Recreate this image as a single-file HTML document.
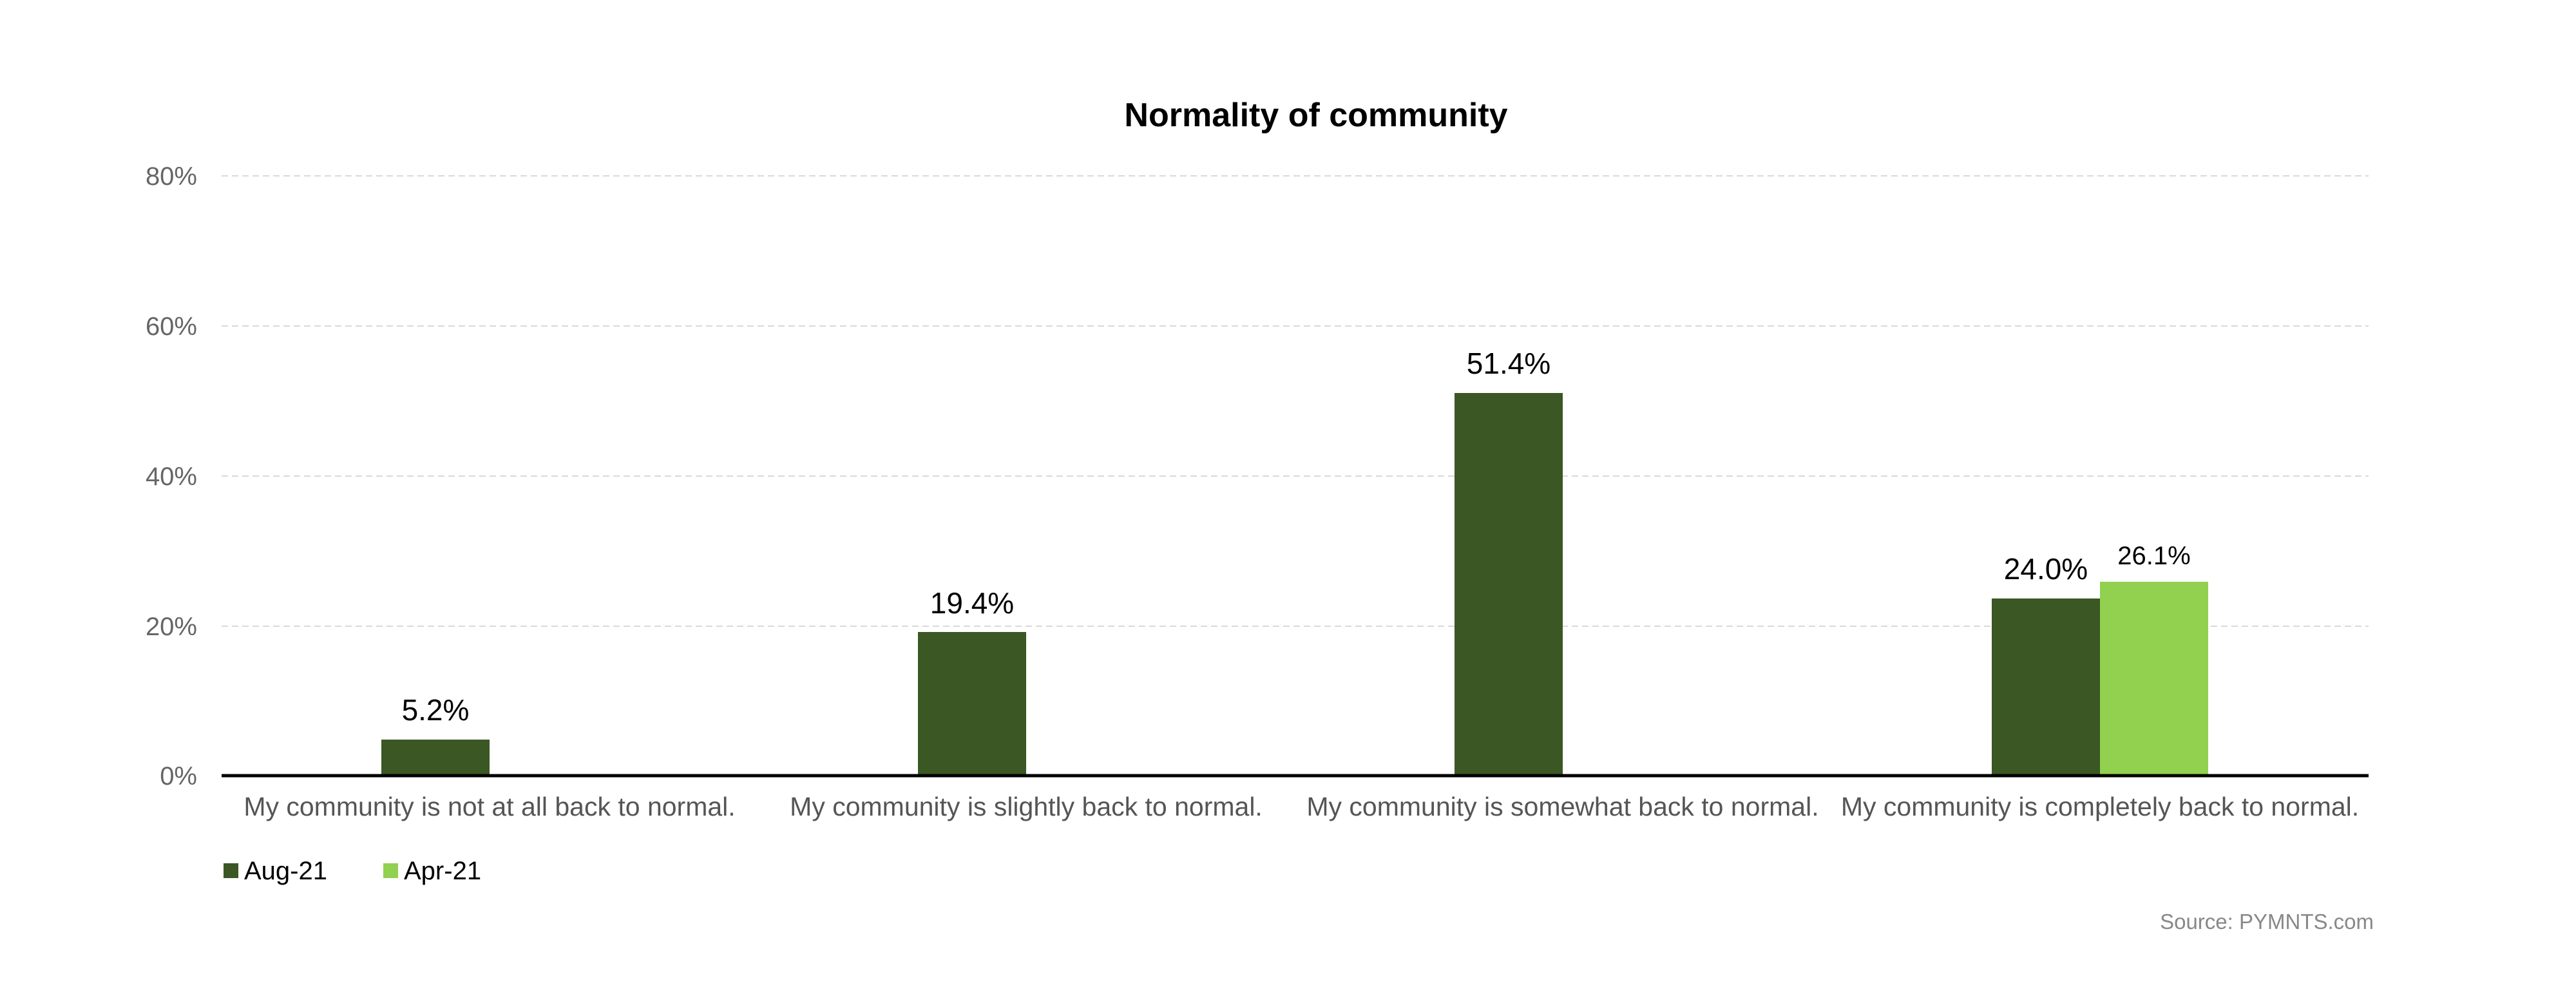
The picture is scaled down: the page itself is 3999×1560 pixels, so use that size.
<!DOCTYPE html>
<html><head><meta charset="utf-8"><style>
html,body{margin:0;padding:0;background:#fff;}
svg{display:block;font-family:"Liberation Sans",sans-serif;}
</style></head><body>
<svg width="3999" height="1560" viewBox="0 0 3999 1560" xmlns="http://www.w3.org/2000/svg">
<rect width="3999" height="1560" fill="#fff"/>
<text x="2043" y="196" text-anchor="middle" font-size="52" font-weight="bold" fill="#000">Normality of community</text>
<g stroke="#d9d9d9" stroke-width="2" stroke-dasharray="10,6">
<line x1="344" x2="3677" y1="273" y2="273"/>
<line x1="344" x2="3677" y1="506" y2="506"/>
<line x1="344" x2="3677" y1="739" y2="739"/>
<line x1="344" x2="3677" y1="972" y2="972"/>
</g>
<g font-size="40" fill="#666" text-anchor="end">
<text x="306" y="287">80%</text>
<text x="306" y="520">60%</text>
<text x="306" y="753">40%</text>
<text x="306" y="986">20%</text>
<text x="306" y="1218">0%</text>
</g>
<g fill="#3b5723">
<rect x="592" y="1148" width="168" height="56"/>
<rect x="1425" y="981" width="168" height="223"/>
<rect x="2258" y="610" width="168" height="594"/>
<rect x="3092" y="929" width="168" height="275"/>
</g>
<rect x="3260" y="903" width="168" height="301" fill="#92d050"/>
<line x1="344" x2="3677" y1="1204" y2="1204" stroke="#000" stroke-width="5"/>
<g font-size="46" fill="#000" text-anchor="middle">
<text x="676" y="1118">5.2%</text>
<text x="1509" y="952">19.4%</text>
<text x="2342" y="580">51.4%</text>
<text x="3176" y="899">24.0%</text>
<text x="3344" y="876" font-size="40">26.1%</text>
</g>
<g font-size="41" fill="#555" text-anchor="middle">
<text x="760" y="1266">My community is not at all back to normal.</text>
<text x="1593" y="1266">My community is slightly back to normal.</text>
<text x="2426" y="1266">My community is somewhat back to normal.</text>
<text x="3260" y="1266">My community is completely back to normal.</text>
</g>
<rect x="347" y="1340" width="23" height="23" fill="#3b5723"/>
<text x="379" y="1365" font-size="40" fill="#000">Aug-21</text>
<rect x="595" y="1340" width="23" height="23" fill="#92d050"/>
<text x="627" y="1365" font-size="40" fill="#000">Apr-21</text>
<text x="3685" y="1442" font-size="33" fill="#888" text-anchor="end">Source: PYMNTS.com</text>
</svg>
</body></html>
